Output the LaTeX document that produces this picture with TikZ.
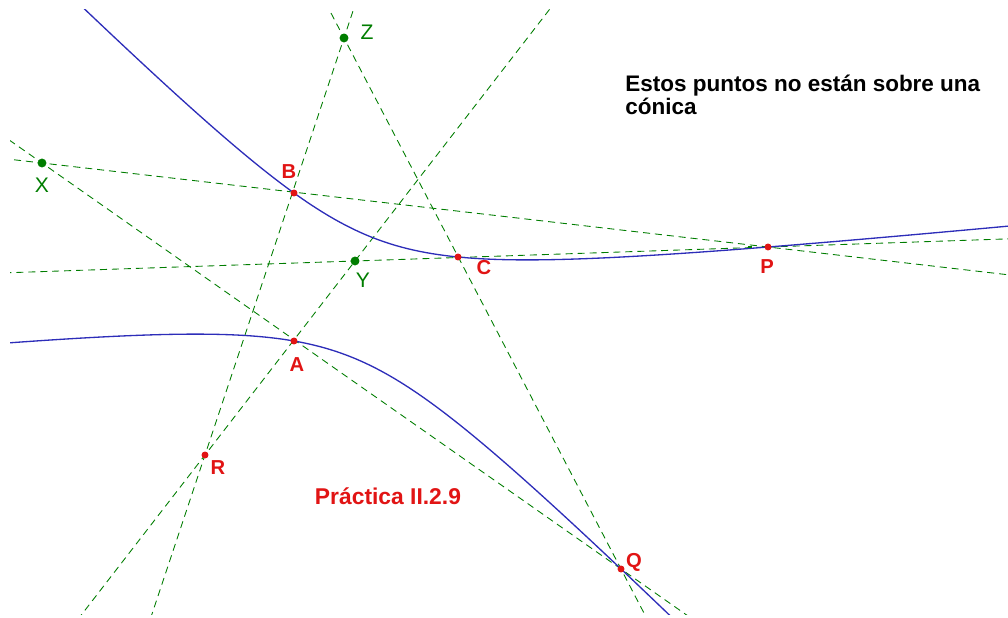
\documentclass[tikz,border=0pt]{standalone}
\usepackage{fontspec}
\setmainfont{Liberation Sans}
\usetikzlibrary{backgrounds}
\definecolor{verde}{RGB}{0,125,0}
\definecolor{azul}{RGB}{45,45,185}
\definecolor{rojo}{RGB}{225,20,20}
\tikzset{
  pverde/.style={circle,fill=verde,inner sep=1.8pt},
  projo/.style={circle,fill=rojo,inner sep=1.4pt},
  marca/.style={rectangle,fill=verde,minimum width=2.4pt,minimum height=1.6pt,inner sep=0pt},
  recta/.style={verde,line width=0.5pt,dash pattern=on 4pt off 2.8pt,
    shorten <=-15cm,shorten >=-15cm},
  rama/.style={azul,line width=0.75pt},
  etv/.style={text=verde,font=\fontsize{12}{14}\selectfont,inner sep=0pt},
  etr/.style={text=rojo,font=\bfseries\fontsize{11.5}{14}\selectfont,inner sep=0pt},
}

\begin{document}
\begin{tikzpicture}[x=0.02cm,y=-0.02cm]
  \useasboundingbox (0,0) rectangle (1008,618);
  % puntos de la conica y de Pascal
  \node[pverde] (X) at (42,163) {};
  \node[pverde] (Y) at (355,261) {};
  \node[pverde] (Z) at (344,38) {};
  \node[projo] (A) at (294,341) {};
  \node[projo] (B) at (294,193) {};
  \node[projo] (C) at (458,257) {};
  \node[projo] (P) at (768,247) {};
  \node[projo] (Q) at (621,569) {};
  \node[projo] (R) at (205,455) {};
  \node[marca] (M) at (750,247) {};
  \begin{scope}[on background layer]
    \clip (10,10) rectangle (1008,614);
    \draw[recta] (X) -- (P);
    \draw[recta] (X) -- (Q);
    \draw[recta] (Y) -- (P);
    \draw[recta] (Z) -- (R);
    \draw[recta] (Z) -- (Q);
    \draw[recta] (R) -- (Y);
    % hiperbola por A, B, C, P, Q
    \draw[rama] plot[domain=-4.1:5.6,samples=160]
      ({458+100*\x},{257+50*(0.893*\x+1.6645-sqrt(1.1974*\x*\x+2.3176*\x+2.7706))});
    \draw[rama] plot[domain=-4.6:2.3,samples=140]
      ({458+100*\x},{257+50*(0.893*\x+1.6645+sqrt(1.1974*\x*\x+2.3176*\x+2.7706))});
  \end{scope}
  \node[etv] at (367,32) {Z};
  \node[etv] at (42,185) {X};
  \node[etv] at (363,280) {Y};
  \node[etr] at (289,172) {B};
  \node[etr] at (484,268) {C};
  \node[etr] at (767,267) {P};
  \node[etr] at (297,365) {A};
  \node[etr] at (218,468) {R};
  \node[etr] at (634,562) {Q};
  \node[text=rojo,font=\bfseries\fontsize{13}{15}\selectfont] at (388,496) {Práctica II.2.9};
  \node[anchor=west,align=left,inner sep=0pt,font=\bfseries\fontsize{12.8}{13.5}\selectfont]
    at (625,95) {Estos puntos no están sobre una\\cónica};
\end{tikzpicture}
\end{document}
